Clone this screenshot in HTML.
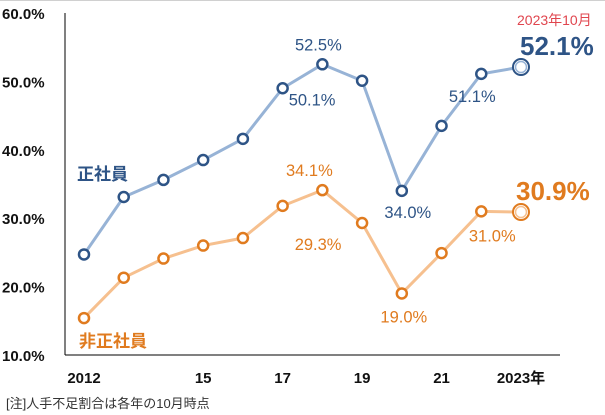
<!DOCTYPE html>
<html><head><meta charset="utf-8"><style>
body{margin:0;background:#fff;width:605px;height:415px;overflow:hidden}
svg{display:block}
text{font-family:"Liberation Sans","Noto Sans CJK JP",sans-serif}
</style></head><body>
<svg id="c" width="605" height="415">
<line x1="0" y1="0.5" x2="605" y2="0.5" stroke="#d0d0d0"/>
<g id="axes"></g><g id="series"></g>
<text x="77" y="180" font-size="17" font-weight="bold" fill="#2e5486">正社員</text>
<text x="79" y="347" font-size="17" font-weight="bold" fill="#e07b1f">非正社員</text>
<text x="517" y="25" font-size="14" fill="#e0454e">2023年10月</text>
<text x="520" y="55" font-size="26" font-weight="bold" fill="#2e5486">52.1%</text>
<text x="516" y="200" font-size="26" font-weight="bold" fill="#e07b1f">30.9%</text>
<text x="6" y="408" font-size="13" fill="#333">[注]人手不足割合は各年の10月時点</text>
</svg>
<script>
const years=[2012,2013,2014,2015,2016,2017,2018,2019,2020,2021,2022,2023];
const regular=[24.7,33.1,35.6,38.5,41.6,49.0,52.5,50.1,34.0,43.5,51.1,52.1];
const nonRegular=[15.4,21.3,24.1,26.0,27.1,31.8,34.1,29.3,19.0,24.9,31.0,30.9];
const yTicks=[10,20,30,40,50,60];
const xTickLabels=["2012","","","15","","17","","19","","21","","2023年"];
const regLabels={6:"52.5%",7:"50.1%",8:"34.0%",10:"51.1%"};
const nonLabels={6:"34.1%",7:"29.3%",8:"19.0%",10:"31.0%"};
const NS="http://www.w3.org/2000/svg";
const X=i=>84+i*(521-84)/(years.length-1);
const Y=v=>13+(60-v)*(342/50);
function mk(tag,at,parent,txt){const e=document.createElementNS(NS,tag);for(const k in at)e.setAttribute(k,at[k]);if(txt!==undefined)e.textContent=txt;parent.appendChild(e);return e;}
const ax=document.getElementById('axes'),se=document.getElementById('series');
let l=mk('line',{x1:65,y1:13,x2:65,y2:Y(10),stroke:'#000','stroke-width':1},ax);

l=mk('line',{x1:65,y1:Y(10),x2:560,y2:Y(10),stroke:'#000','stroke-width':1},ax);

yTicks.forEach(t=>{const e=mk('text',{x:2,y:Y(t)+6,'font-size':15,'font-weight':'bold',fill:'#111'},ax,t.toFixed(1)+'%');
});
xTickLabels.forEach((s,i)=>{if(!s)return;const e=mk('text',{x:X(i),y:383,'font-size':15,'font-weight':'bold',fill:'#111','text-anchor':'middle'},ax,s);
});
function draw(vals,line,dark,labels,name,lblOff){
 const p=mk('polyline',{points:vals.map((v,i)=>X(i)+','+Y(v)).join(' '),fill:'none',stroke:line,'stroke-width':3},se);
 
 vals.forEach((v,i)=>{
  const last=i===vals.length-1;
  const c=mk('circle',{cx:X(i),cy:Y(v),r:last?8:5,fill:'#fff',stroke:dark,'stroke-width':last?2:2.5},se);
  
  if(last){const c2=mk('circle',{cx:X(i),cy:Y(v),r:5.5,fill:'none',stroke:line,'stroke-width':1.5},se);
   }
  if(labels[i]){const o=lblOff[i];const t=mk('text',{x:X(i)+o[0],y:Y(v)+o[1],'font-size':16.5,fill:dark,'text-anchor':'middle'},se,labels[i]);
   }
 });
}
draw(regular,'#97b3d6','#2e5486',regLabels,'regular',{6:[-4,-14],7:[-50,25],8:[6,27],10:[-9,28]});
draw(nonRegular,'#f6c08f','#e07b1f',nonLabels,'nonregular',{6:[-13,-14],7:[-44,27],8:[2,29],10:[11,30]});
</script>
</body></html>
